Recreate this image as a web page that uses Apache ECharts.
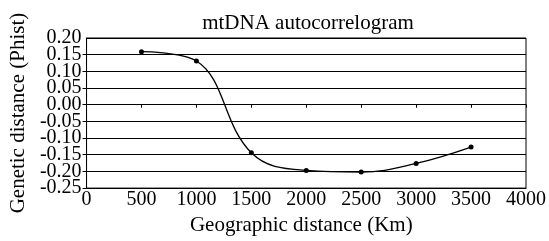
<!DOCTYPE html>
<html><head><meta charset="utf-8">
<script src="https://cdn.jsdelivr.net/npm/echarts@6/dist/echarts.min.js"></script>
<style>html,body{margin:0;padding:0;background:#fff}#c{width:549px;height:241px}</style>
</head><body><div id="c"></div>
<script>
var distances = [500, 1000, 1500, 2000, 2500, 3000, 3500];
var phist = [0.159, 0.131, -0.144, -0.197, -0.202, -0.176, -0.127];
var titleText = 'mtDNA autocorrelogram';
var xName = 'Geographic distance (Km)';
var yName = 'Genetic distance (Phist)';

var font = 'Liberation Serif';
var chart = echarts.init(document.getElementById('c'));
var pts = distances.map(function (d, i) { return [d, phist[i]]; });
function fmtY(v) { return Math.abs(v) < 1e-9 ? '0.00' : v.toFixed(2); }
// step index of a tick value relative to the axis minimum
function stepIdx(v) { return Math.round((v + 0.25) / 0.05); }
var yLabelBase = { margin: 5, fontFamily: font, fontSize: 20, color: '#000', hideOverlap: false };
chart.setOption({
  animation: false,
  backgroundColor: '#fff',
  title: {
    text: titleText, left: 303, top: 8, textAlign: 'center',
    textStyle: { fontFamily: font, fontSize: 21, fontWeight: 'normal', color: '#000' }
  },
  grid: { left: 84, right: 21, top: 38, bottom: 50, show: true, borderColor: '#000', borderWidth: 1 },
  xAxis: [{
    type: 'value', min: 0, max: 4000, interval: 500,
    name: xName, nameLocation: 'middle', nameGap: 25,
    nameTextStyle: { fontFamily: font, fontSize: 21, color: '#000', padding: [0, 10, 0, 0] },
    axisLine: { onZero: false, lineStyle: { color: '#000' } },
    axisTick: { show: false },
    axisLabel: { margin: 2, fontFamily: font, fontSize: 20, color: '#000', showMinLabel: true, showMaxLabel: true,
      formatter: function (v) { return String(v); } },
    splitLine: { show: false }
  }, {
    type: 'value', min: 0, max: 4000, interval: 500, position: 'bottom',
    axisLine: { show: true, onZero: true, lineStyle: { color: '#000' } },
    axisTick: { show: true, length: 3, lineStyle: { color: '#000' } },
    axisLabel: { show: false },
    splitLine: { show: false }
  }],
  yAxis: [{
    type: 'value', min: -0.25, max: 0.2, interval: 0.05, position: 'left',
    name: yName, nameLocation: 'middle', nameGap: 54,
    nameTextStyle: { fontFamily: font, fontSize: 21, color: '#000' },
    axisLine: { show: true, lineStyle: { color: '#000' } },
    axisTick: { show: true, length: 4, lineStyle: { color: '#000' } },
    axisLabel: Object.assign({}, yLabelBase, {
      showMinLabel: true, showMaxLabel: false,
      formatter: function (v) { return stepIdx(v) % 2 === 0 ? fmtY(v) : ''; }
    }),
    splitLine: { show: true, lineStyle: { color: '#000', width: 1 } }
  }, {
    type: 'value', min: -0.25, max: 0.2, interval: 0.05, position: 'left', offset: 0,
    axisLine: { show: false },
    axisTick: { show: false },
    axisLabel: Object.assign({}, yLabelBase, {
      showMinLabel: false, showMaxLabel: true,
      formatter: function (v) { return stepIdx(v) % 2 === 1 ? fmtY(v) : ''; }
    }),
    splitLine: { show: false }
  }],
  series: [{
    type: 'line', xAxisIndex: 0, yAxisIndex: 0, data: pts, smooth: 0.4,
    symbol: 'circle', symbolSize: 5,
    itemStyle: { color: '#000' },
    lineStyle: { color: '#000', width: 1.3 }
  }]
});
</script></body></html>
